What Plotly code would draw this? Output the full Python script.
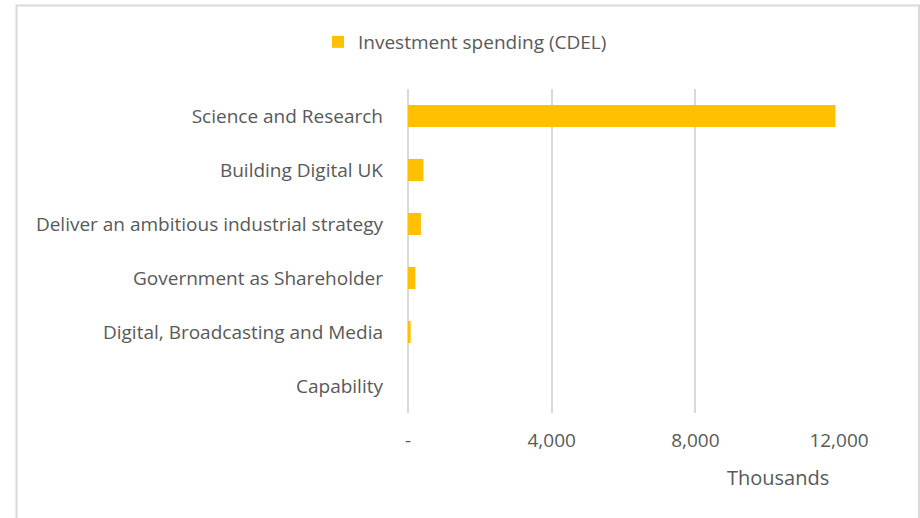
import plotly.graph_objects as go

# Capital investment spending (CDEL) by area, in thousands
categories = [
    "Science and Research",
    "Building Digital UK",
    "Deliver an ambitious industrial strategy",
    "Government as Shareholder",
    "Digital, Broadcasting and Media",
    "Capability",
]
investment = [11900, 430, 360, 205, 75, 0]

tick_values = [0, 4000, 8000, 12000]
tick_labels = ["-", "4,000", "8,000", "12,000"]

series_name = "Investment spending (CDEL)"
axis_unit = "Thousands"

FONT = "Open Sans, sans-serif"
TEXT = "#595959"
GRID = "#d9d9d9"
BAR = "#FFC000"

fig = go.Figure()
fig.add_trace(go.Bar(
    x=investment,
    y=categories,
    orientation="h",
    name=series_name,
    marker=dict(color=BAR, line=dict(width=0)),
    width=0.41,
    showlegend=True,
))

# plot area in pixels: x 408..839, y 89..413
L, R, T, B = 408, 81, 89, 105
W, H = 920 - L - R, 518 - T - B

def px(x):
    return (x - L) / W

def py(y):
    return (518 - B - y) / H

fig.update_layout(
    width=920,
    height=518,
    margin=dict(l=L, r=R, t=T, b=B),
    paper_bgcolor="white",
    plot_bgcolor="white",
    font=dict(family=FONT, size=19, color=TEXT),
    bargap=0.59,
    showlegend=True,
    legend=dict(
        orientation="h",
        x=px(318), y=py(42),
        xanchor="left", yanchor="middle",
        font=dict(family=FONT, size=19, color=TEXT),
        itemwidth=30,
        bgcolor="rgba(0,0,0,0)",
    ),
    xaxis=dict(
        range=[0, 12000],
        tickvals=tick_values,
        ticktext=tick_labels,
        showgrid=True,
        gridcolor=GRID,
        gridwidth=1.5,
        zeroline=True,
        zerolinecolor=GRID,
        zerolinewidth=2,
        showline=False,
        ticks="",
        ticklabelstandoff=14,
        tickfont=dict(family=FONT, size=19, color=TEXT),
        fixedrange=True,
    ),
    yaxis=dict(
        categoryorder="array",
        categoryarray=categories[::-1],
        autorange=True,
        showgrid=False,
        zeroline=False,
        showline=False,
        ticks="",
        ticklabelstandoff=24,
        tickfont=dict(family=FONT, size=19, color=TEXT),
        fixedrange=True,
    ),
    annotations=[
        dict(
            text=axis_unit,
            xref="paper", yref="paper",
            x=px(778), y=py(477),
            xanchor="center", yanchor="middle",
            showarrow=False,
            font=dict(family=FONT, size=20, color=TEXT),
        )
    ],
    shapes=[
        dict(
            type="rect",
            xref="paper", yref="paper",
            x0=px(16.5), x1=px(919), y0=py(530), y1=py(5.5),
            line=dict(color=GRID, width=2),
            fillcolor="rgba(0,0,0,0)",
            layer="below",
        )
    ],
)

fig.write_html("out.html")
